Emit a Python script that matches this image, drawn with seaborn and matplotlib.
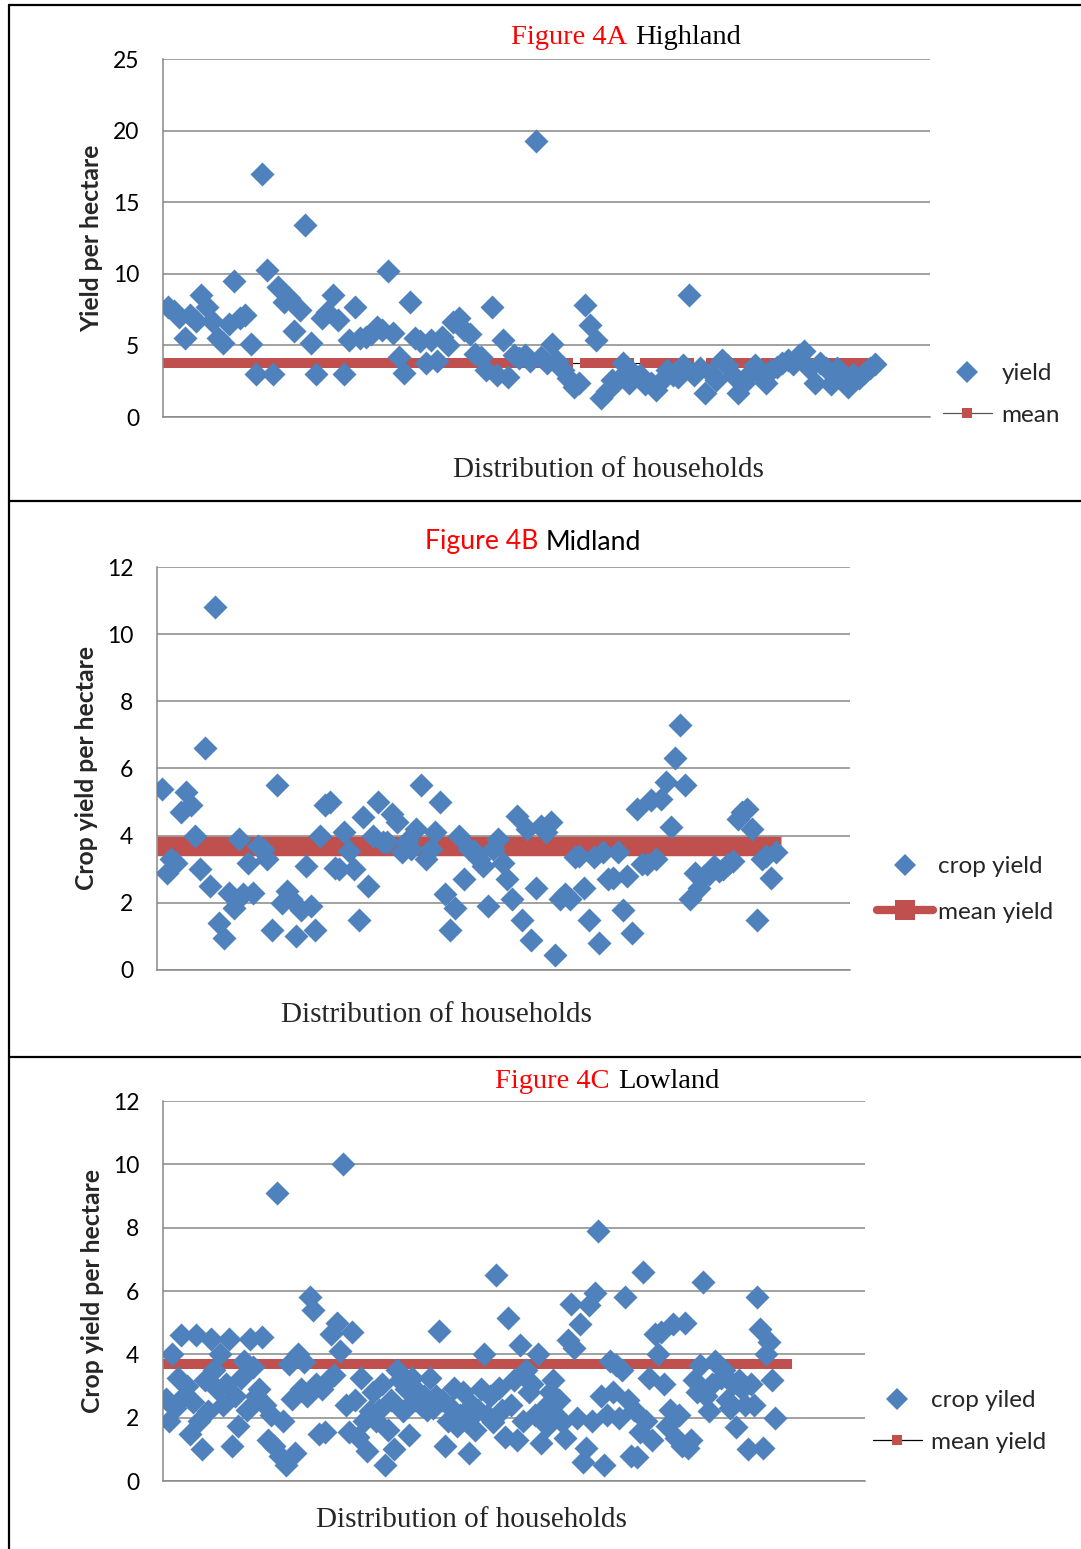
import matplotlib
matplotlib.use('Agg')
import matplotlib.pyplot as plt
from matplotlib.lines import Line2D
import numpy as np
import seaborn as sns

# Figure 4A Highland - yield per hectare, one value per household
highland_yield = [
    7.7, 7.4, 7.0, 5.5, 7.1, 6.7, 8.5, 7.7, 6.7, 5.5,
    5.2, 6.5, 9.5, 6.9, 7.1, 5.1, 3.0, 17.0, 10.3, 3.0,
    9.1, 8.0, 8.3, 6.0, 7.5, 13.4, 5.2, 3.0, 6.9, 7.3,
    8.5, 6.8, 3.0, 5.4, 7.7, 5.5, 5.6, 5.8, 6.3, 6.1,
    10.2, 5.9, 4.2, 3.1, 8.0, 5.5, 5.3, 3.8, 5.4, 3.9,
    5.6, 5.0, 6.6, 6.9, 6.1, 5.8, 4.4, 4.2, 3.3, 7.7,
    2.9, 5.4, 2.8, 4.3, 4.1, 4.3, 3.9, 19.3, 4.2, 3.8,
    5.1, 3.9, 3.3, 2.7, 2.1, 2.4, 7.8, 6.4, 5.4, 1.3,
    1.8, 2.6, 2.6, 3.8, 2.4, 3.0, 2.9, 2.3, 2.4, 1.9,
    2.6, 3.3, 2.9, 2.8, 3.6, 8.5, 2.9, 3.4, 1.7, 3.1,
    2.6, 4.0, 3.6, 2.9, 1.7, 2.4, 3.0, 3.6, 2.9, 2.4,
    3.3, 3.5, 3.8, 4.0, 3.7, 4.3, 4.6, 3.4, 2.4, 3.8,
    3.4, 2.3, 3.4, 2.8, 2.1, 3.0, 2.7, 3.1, 3.4, 3.7,
]
highland_mean = 3.8
highland_gaps = [43, 75, 76, 86, 87, 97, 98, 99, 108, 109]

# Figure 4B Midland
midland_yield = [
    5.4, 2.9, 3.3, 3.2, 4.7, 5.3, 4.9, 4.0, 3.0, 6.6,
    2.5, 10.8, 1.4, 0.95, 2.3, 1.85, 3.9, 2.25, 3.2, 2.3,
    3.7, 3.6, 3.3, 1.2, 5.5, 2.0, 2.35, 2.1, 1.0, 1.8,
    3.1, 1.9, 1.2, 4.0, 4.9, 5.0, 3.05, 3.0, 4.1, 3.55,
    3.0, 1.5, 4.55, 2.5, 4.0, 5.0, 3.8, 3.8, 4.65, 4.4,
    3.5, 3.85, 3.6, 4.2, 5.5, 3.3, 3.6, 4.1, 5.0, 2.25,
    1.2, 1.85, 4.0, 2.7, 3.6, 3.55, 3.3, 3.1, 1.9, 3.6,
    3.9, 3.2, 2.7, 2.1, 4.6, 1.5, 4.2, 0.9, 2.45, 4.3,
    4.1, 4.4, 0.45, 2.1, 2.25, 2.1, 3.35, 3.4, 2.45, 1.5,
    3.35, 0.8, 3.5, 2.7, 2.75, 3.5, 1.8, 2.8, 1.1, 4.8,
    3.15, 3.15, 5.05, 3.3, 5.1, 5.6, 4.25, 6.3, 7.3, 5.5,
    2.1, 2.9, 2.45, 2.8, 2.85, 3.1, 2.95, 3.0, 3.15, 3.25,
    4.5, 4.7, 4.8, 4.2, 1.5, 3.3, 3.4, 2.75, 3.5,
]
midland_mean = 3.7

# Figure 4C Lowland
lowland_yield = [
    2.6, 1.9, 4.0, 2.3, 3.25, 4.6, 2.7, 3.0, 1.5, 2.5,
    4.6, 1.9, 1.0, 3.2, 2.2, 4.5, 3.5, 2.9, 4.0, 2.4,
    3.05, 4.5, 1.1, 2.7, 1.75, 3.25, 3.8, 2.25, 4.5, 3.6,
    2.7, 2.9, 4.55, 2.4, 1.3, 2.1, 1.1, 9.1, 0.8, 1.9,
    0.5, 3.7, 2.6, 0.9, 4.0, 2.9, 3.75, 2.7, 5.8, 5.4,
    3.05, 1.5, 2.9, 1.55, 3.2, 4.65, 3.35, 5.0, 4.1, 10.0,
    2.4, 1.55, 4.7, 2.55, 1.4, 3.25, 1.9, 0.95, 2.2, 2.8,
    1.9, 2.25, 3.05, 0.5, 1.6, 2.55, 1.0, 3.5, 3.2, 2.2,
    2.9, 1.45, 3.25, 2.55, 2.8, 2.4, 2.7, 2.25, 3.25, 2.3,
    2.7, 4.75, 2.55, 1.1, 1.9, 2.3, 2.95, 1.75, 2.1, 2.8,
    1.9, 0.9, 2.4, 1.6, 2.25, 2.9, 4.0, 2.1, 2.7, 1.85,
    6.5, 2.95, 2.25, 1.4, 5.15, 2.4, 3.2, 1.3, 4.3, 1.9,
    3.5, 2.8, 3.05, 2.1, 4.0, 1.2, 2.3, 1.75, 2.8, 3.2,
    2.1, 2.55, 1.85, 1.35, 4.45, 5.6, 4.2, 2.0, 4.95, 0.6,
    1.05, 5.55, 1.9, 5.95, 7.9, 2.7, 0.5, 2.1, 3.8, 2.8,
    3.65, 2.0, 3.5, 5.8, 2.55, 0.8, 2.25, 0.75, 1.55, 6.6,
    1.9, 3.25, 1.3, 4.65, 4.0, 4.7, 3.05, 1.75, 2.25, 4.95,
    1.35, 2.1, 1.1, 5.0, 1.05, 1.3, 3.2, 2.8, 3.65, 6.3,
    2.7, 2.2, 3.05, 3.8, 3.65, 3.25, 3.5, 2.55, 2.3, 3.05,
    1.7, 3.2, 2.9, 2.4, 1.0, 3.05, 2.4, 5.8, 4.8, 1.05,
    4.0, 4.4, 3.2, 2.0,
]
lowland_mean = 3.7

sns.set_style('white')
plt.rcParams['font.family'] = ['Lato', 'DejaVu Sans']

blue = '#4F81BD'
red = '#C0504D'
grey = '#878787'
serif = ['Liberation Serif', 'DejaVu Serif']
W, H = 1081, 1549
dot = 150

fig = plt.figure(figsize=(W / 100, H / 100), dpi=100)


def add_ax(left, top, right, bottom):
    return fig.add_axes([left / W, 1 - bottom / H, (right - left) / W, (bottom - top) / H])


def style(ax, xmax, ymax, step):
    ax.set_xlim(0, xmax)
    ax.set_ylim(0, ymax)
    ax.set_yticks(np.arange(0, ymax + step / 2, step))
    ax.set_xticks([])
    ax.grid(axis='y', color=grey, lw=1.1)
    ax.set_axisbelow(True)
    ax.spines['top'].set_visible(False)
    ax.spines['right'].set_visible(False)
    for s in ['left', 'bottom']:
        ax.spines[s].set_color(grey)
        ax.spines[s].set_linewidth(1.1)
    ax.tick_params(axis='y', length=0, pad=17, labelsize=16.5, labelcolor='black')
    ax.set_xlabel('')


def title(x_split, y, red_part, black_part, family, size):
    fig.text((x_split - 4) / W, 1 - y / H, red_part, color='red', ha='right', va='center',
             family=family, fontsize=size)
    fig.text((x_split + 4) / W, 1 - y / H, black_part, color='black', ha='left', va='center',
             family=family, fontsize=size)


def legend(handles, labels, left, top, hl, tpad, spacing):
    fig.legend(handles, labels, loc='upper left', bbox_to_anchor=(left / W, 1 - top / H),
               frameon=False, fontsize=17.5, handlelength=hl, handletextpad=tpad,
               labelspacing=spacing, borderpad=0, borderaxespad=0)


def diamond():
    return Line2D([], [], ls='none', marker='D', color=blue, markersize=11, markeredgewidth=0)


# ---- Figure 4A Highland
ax = add_ax(163, 59, 930, 417)
n = len(highland_yield)
mean_line = [highland_mean] * (n + 1)
marks = [i not in highland_gaps for i in range(n + 1)]
sns.lineplot(x=range(n + 1), y=mean_line, ax=ax, color='black', lw=0.8, marker='s',
             markersize=7, markerfacecolor=red, markeredgecolor=red, markeredgewidth=0,
             markevery=marks, label='mean', legend=False, zorder=2)
sns.scatterplot(x=range(1, n + 1), y=highland_yield, ax=ax, marker='D', color=blue, s=dot,
                linewidth=0, label='yield', legend=False, zorder=3)
style(ax, 140, 25, 5)
ax.set_ylabel('Yield per hectare', fontsize=17.8, fontweight='bold')
ax.yaxis.set_label_coords(-0.078, 0.5)
title(631, 37, 'Figure 4A', 'Highland', serif, 20.5)
fig.text(608 / W, 1 - 470 / H, 'Distribution of households', family=serif, fontsize=21,
         ha='center', va='center')
h = [diamond(),
     Line2D([], [], color='#555555', lw=0.9, marker='s', markersize=7, markerfacecolor=red,
            markeredgewidth=0)]
legend(h, ['yield', 'mean'], 943, 363, 2.0, 0.4, 0.85)

# ---- Figure 4B Midland
ax = add_ax(157, 567, 850, 970)
n = len(midland_yield)
sns.lineplot(x=range(n + 2), y=[midland_mean] * (n + 2), ax=ax, color=red, lw=14,
             solid_capstyle='butt', label='mean yield', legend=False, zorder=2)
sns.scatterplot(x=range(1, n + 1), y=midland_yield, ax=ax, marker='D', color=blue, s=dot,
                linewidth=0, label='crop yield', legend=False, zorder=3)
style(ax, 144.4, 12, 2)
ax.set_ylabel('Crop yield per hectare', fontsize=17.8, fontweight='bold')
ax.yaxis.set_label_coords(-0.085, 0.5)
title(542, 542, 'Figure 4B', 'Midland', ['Lato', 'DejaVu Sans'], 19.2)
fig.text(436 / W, 1 - 1015 / H, 'Distribution of households', family=serif, fontsize=21,
         ha='center', va='center')
h = [diamond(),
     Line2D([], [], color=red, lw=6, marker='s', markersize=14, markeredgewidth=0)]
legend(h, ['crop yield', 'mean yield'], 877, 856, 2.3, 0.2, 1.02)

# ---- Figure 4C Lowland
ax = add_ax(163, 1101, 865, 1481)
n = len(lowland_yield)
sns.lineplot(x=range(n + 5), y=[lowland_mean] * (n + 5), ax=ax, color='black', lw=0.8,
             marker='s', markersize=7, markerfacecolor=red, markeredgecolor=red,
             markeredgewidth=0, label='mean yield', legend=False, zorder=2)
sns.scatterplot(x=range(1, n + 1), y=lowland_yield, ax=ax, marker='D', color=blue, s=dot,
                linewidth=0, label='crop yiled', legend=False, zorder=3)
style(ax, 234, 12, 2)
ax.set_ylabel('Crop yield per hectare', fontsize=17.8, fontweight='bold')
ax.yaxis.set_label_coords(-0.084, 0.5)
title(614, 1082, 'Figure 4C', 'Lowland', serif, 20.5)
fig.text(471 / W, 1 - 1520 / H, 'Distribution of households', family=serif, fontsize=21,
         ha='center', va='center')
h = [diamond(),
     Line2D([], [], color='black', lw=0.9, marker='s', markersize=7, markerfacecolor=red,
            markeredgewidth=0)]
legend(h, ['crop yiled', 'mean yield'], 873, 1390, 2.0, 0.4, 0.85)

# panel frame lines
for xs, ys in [([9, 9], [5, H]), ([9, W], [5, 5]), ([9, W], [501, 501]), ([9, W], [1057, 1057])]:
    fig.add_artist(Line2D([x / W for x in xs], [1 - y / H for y in ys], color='black', lw=1.6))

fig.savefig('out.png', dpi=100)
